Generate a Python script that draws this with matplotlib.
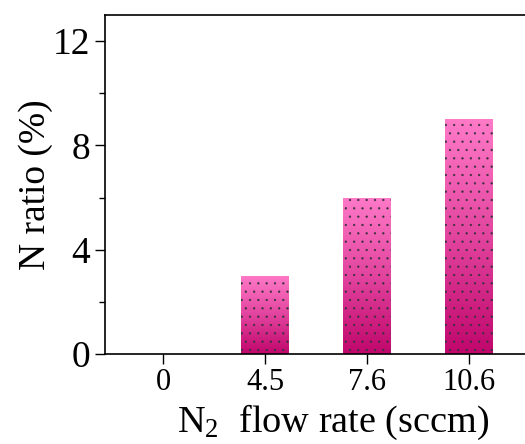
import numpy as np
import matplotlib
matplotlib.use("Agg")
import matplotlib.pyplot as plt
from matplotlib.colors import LinearSegmentedColormap

plt.rcParams['font.family'] = 'Liberation Serif'
plt.rcParams['mathtext.fontset'] = 'custom'
plt.rcParams['mathtext.rm'] = 'Liberation Serif'
plt.rcParams['mathtext.it'] = 'Liberation Serif:italic'
plt.rcParams['hatch.linewidth'] = 0.4

flow_labels = ['0', '4.5', '7.6', '10.6']
n_ratio = [0, 3, 6, 9]

# bottom-to-top gradient used inside each bar
grad = LinearSegmentedColormap.from_list('pinkgrad', ['#c0066c', '#e2449e', '#ff7ac8'])

fig = plt.figure(figsize=(5.25, 4.44), dpi=100)
ax = fig.add_axes([0.2, 0.203, 0.803, 0.763])

x = np.arange(len(flow_labels))
width = 0.47
bars = ax.bar(x, n_ratio, width, facecolor='none', edgecolor='#3a3040',
              linewidth=0, hatch='..', zorder=3)

g = np.linspace(0, 1, 256).reshape(-1, 1)
for b in bars:
    h = b.get_height()
    if h <= 0:
        continue
    x0 = b.get_x()
    im = ax.imshow(g, cmap=grad, origin='lower', aspect='auto',
                   extent=[x0, x0 + b.get_width(), 0, h], zorder=2)
    im.set_clip_path(b)

ax.set_xlim(-0.57, 3.56)
ax.set_ylim(0, 13)
ax.set_xticks(x)
ax.set_xticklabels(flow_labels, fontsize=22)
ax.set_yticks([0, 4, 8, 12])
ax.set_yticks([2, 6, 10], minor=True)
ax.tick_params(axis='y', labelsize=27, direction='out', length=7, width=1)
ax.tick_params(axis='y', which='minor', direction='out', length=4, width=1)
ax.tick_params(axis='x', direction='out', length=7, width=1)
for s in ax.spines.values():
    s.set_linewidth(1.2)

ax.set_ylabel('N ratio (%)', fontsize=27, labelpad=0)
ax.set_xlabel('N$_2$  flow rate (sccm)', fontsize=27.5)
ax.xaxis.set_label_coords(0.54, -0.145)

fig.savefig('out.png', dpi=100)
